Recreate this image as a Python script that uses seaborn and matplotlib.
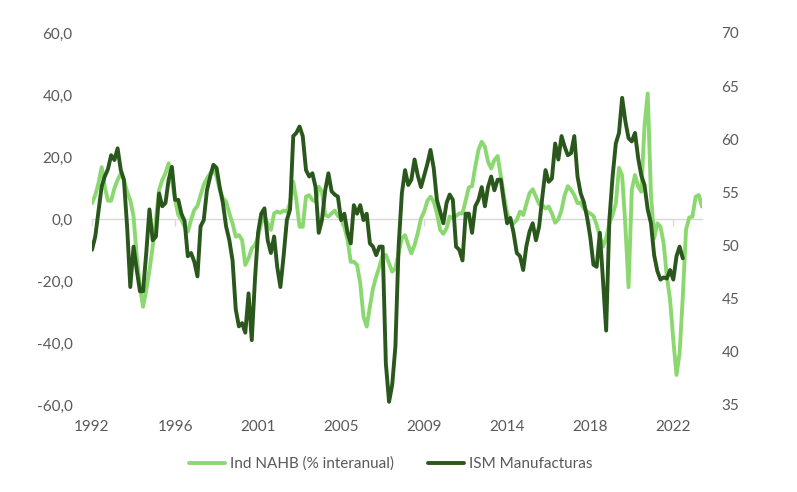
import matplotlib
matplotlib.use("Agg")
import matplotlib.pyplot as plt
import matplotlib.dates as mdates
from matplotlib.ticker import FuncFormatter
import seaborn as sns
import pandas as pd

# ---------------- data (bi-monthly readings, starting Jul 1992) ----------------
start_date = "1992-07-01"
step = "2MS"

nahb_yoy = [
    5.1, 7.7, 11.5, 16.7, 10.4, 5.9, 5.9, 9.9, 12.6, 14.7,
    12.6, 8.8, 6.1, 0.8, -12.2, -21.8, -28.3, -22.9, -16.5, -8.9,
    -0.3, 9.4, 12.6, 14.7, 18.0, 12.6, 6.1, 1.3, -0.3, -2.5,
    -4.1, -0.3, 2.9, 4.2, 7.7, 11.0, 13.1, 14.7, 16.0, 13.7,
    9.4, 6.7, 5.6, 1.8, -1.4, -5.7, -5.2, -6.8, -14.8, -12.7,
    -9.5, -8.4, -5.7, -1.4, 0.5, -1.4, -3.5, 1.8, 2.4, 2.0,
    2.7, 2.4, 5.1, 12.0, 6.1, -2.5, -2.5, 7.2, 7.7, 6.1,
    5.6, 10.4, 8.8, 1.3, 0.8, 1.8, 2.7, 1.0, 0.2, -2.5,
    -6.8, -13.8, -13.8, -14.8, -20.8, -31.5, -34.7, -28.3, -22.4, -18.6,
    -15.4, -11.6, -11.6, -14.3, -17.0, -15.9, -11.1, -6.2, -5.2, -8.4,
    -11.1, -8.4, -4.6, 0.2, 2.4, 5.9, 7.2, 5.6, 1.8, -3.5,
    -4.8, -3.0, 0.8, 0.2, 1.0, 1.8, 1.8, 6.1, 10.2, 10.6,
    16.9, 22.3, 24.9, 23.3, 18.5, 16.3, 19.0, 20.3, 13.7, 7.2,
    1.8, -0.9, -1.4, -0.3, 2.4, 1.3, 4.8, 8.3, 9.6, 7.2,
    4.8, 4.5, 3.4, 4.0, 1.8, -1.2, -0.1, 2.9, 7.7, 10.6,
    9.4, 7.7, 5.1, 5.3, 3.4, 2.4, 1.8, 1.0, -1.9, -5.7,
    -8.9, -6.2, -1.4, 1.3, 5.0, 16.5, 14.0, -2.0, -22.0, 9.4,
    14.2, 10.4, 8.8, 30.0, 40.5, 8.0, -6.2, -1.4, -2.5, -7.8,
    -18.6, -26.1, -39.0, -50.3, -43.3, -25.1, -3.5, 0.5, 0.8, 7.2,
    7.7, 4.0,
]

ism_manuf = [
    49.6, 50.85, 53.2, 55.55, 56.5, 57.2, 58.5, 58.05, 59.15, 57.1,
    56.2, 51.8, 46.1, 49.9, 47.7, 45.7, 45.7, 49.3, 53.4, 50.5,
    50.85, 54.9, 53.7, 54.0, 56.2, 57.4, 54.3, 54.3, 53.0, 52.3,
    49.0, 49.3, 48.5, 47.1, 51.8, 52.4, 55.2, 56.5, 57.6, 57.3,
    55.5, 54.0, 51.8, 50.5, 48.6, 44.0, 42.4, 42.7, 41.8, 45.5,
    41.1, 46.8, 51.2, 53.0, 53.5, 50.5, 49.3, 50.85, 48.0, 46.1,
    49.0, 52.4, 53.4, 60.3, 60.6, 61.2, 60.3, 57.1, 56.5, 56.8,
    55.5, 51.2, 52.4, 55.2, 56.8, 55.1, 54.8, 54.6, 52.4, 53.0,
    51.2, 50.2, 53.8, 53.0, 53.8, 52.4, 53.0, 50.2, 49.9, 49.1,
    49.9, 49.9, 38.9, 35.3, 36.9, 40.5, 49.9, 54.9, 57.1, 55.7,
    56.2, 58.1, 56.6, 55.5, 56.6, 57.7, 59.0, 57.3, 54.3, 53.2,
    52.1, 54.0, 54.8, 54.3, 49.9, 49.6, 48.6, 53.0, 53.0, 51.2,
    53.7, 54.3, 55.5, 53.7, 55.5, 56.5, 55.2, 56.2, 56.2, 54.0,
    52.1, 52.6, 51.2, 49.3, 49.0, 47.7, 49.9, 51.3, 52.1, 50.5,
    51.8, 54.6, 57.1, 56.0, 56.3, 59.6, 58.1, 60.3, 59.3, 58.5,
    58.7, 60.3, 56.5, 54.9, 54.1, 52.7, 50.85, 48.2, 48.0, 51.2,
    46.8, 42.0, 52.4, 56.5, 59.6, 60.6, 63.9, 61.7, 60.1, 59.8,
    60.6, 58.2, 56.6, 55.7, 53.4, 52.1, 49.1, 47.6, 46.8, 47.0,
    46.9, 47.7, 46.8, 49.0, 49.9, 48.8,
]

year_tick_start = "1992-07-01"
year_tick_step = "52MS"
n_year_ticks = 8

label_nahb = "Ind NAHB (% interanual)"
label_ism = "ISM Manufacturas"

# ---------------- styling ----------------
LIGHT = "#8CD870"
DARK = "#2A571C"
TXT = "#595959"
GRID = "#D9D9D9"
FS = 11

sns.set_theme(style="white")
plt.rcParams["font.family"] = ["Lato", "DejaVu Sans"]

nahb_dates = pd.date_range(start_date, periods=len(nahb_yoy), freq=step)
ism_dates = pd.date_range(start_date, periods=len(ism_manuf), freq=step)
df_n = pd.DataFrame({"fecha": nahb_dates, "valor": nahb_yoy})
df_i = pd.DataFrame({"fecha": ism_dates, "valor": ism_manuf})
tick_dates = pd.date_range(year_tick_start, periods=n_year_ticks, freq=year_tick_step)

W, H = 797, 492
fig = plt.figure(figsize=(W / 100, H / 100), dpi=100)
ax = fig.add_axes([92 / W, 1 - 405 / H, (702 - 92) / W, (405 - 33) / H])
ax2 = ax.twinx()

sns.lineplot(data=df_n, x="fecha", y="valor", ax=ax, color=LIGHT, linewidth=2.8,
             label=label_nahb, legend=False)
sns.lineplot(data=df_i, x="fecha", y="valor", ax=ax2, color=DARK, linewidth=2.8,
             label=label_ism, legend=False)

ax.set_xlim(nahb_dates[0], nahb_dates[-1])
ax.set_ylim(-60, 60)
ax.set_yticks(range(-60, 61, 20))
ax.yaxis.set_major_formatter(FuncFormatter(lambda v, p: f"{v:.1f}".replace(".", ",")))
ax2.set_ylim(35, 70)
ax2.set_yticks(range(35, 71, 5))

for a in (ax, ax2):
    for s in a.spines.values():
        s.set_visible(False)
    a.set_xlabel("")
    a.set_ylabel("")

# category axis drawn at zero
ax.spines["bottom"].set_visible(True)
ax.spines["bottom"].set_position(("data", 0))
ax.spines["bottom"].set_color(GRID)
ax.spines["bottom"].set_linewidth(1.0)
ax.spines["bottom"].set_zorder(0.5)
ax.set_xticks(tick_dates)
ax.tick_params(axis="x", bottom=True, length=5, width=1, color=GRID, labelbottom=False)

sec = ax.secondary_xaxis("bottom")
sec.set_xticks(tick_dates)
sec.xaxis.set_major_formatter(mdates.DateFormatter("%Y"))
sec.tick_params(length=0, pad=11, labelsize=FS, labelcolor=TXT)
for s in sec.spines.values():
    s.set_visible(False)

ax.tick_params(axis="y", left=False, length=0, pad=14, labelsize=FS, labelcolor=TXT)
ax2.tick_params(axis="y", right=False, length=0, pad=14, labelsize=FS, labelcolor=TXT)
ax2.tick_params(axis="x", bottom=False, labelbottom=False)

h1, l1 = ax.get_legend_handles_labels()
h2, l2 = ax2.get_legend_handles_labels()
fig.legend(h1 + h2, l1 + l2, loc="center", bbox_to_anchor=(0.49, 1 - 464 / H), ncol=2,
           frameon=False, fontsize=FS, labelcolor=TXT, handlelength=2.4,
           handletextpad=0.3, columnspacing=2.2)

fig.savefig("out.png", dpi=100, facecolor="white")
